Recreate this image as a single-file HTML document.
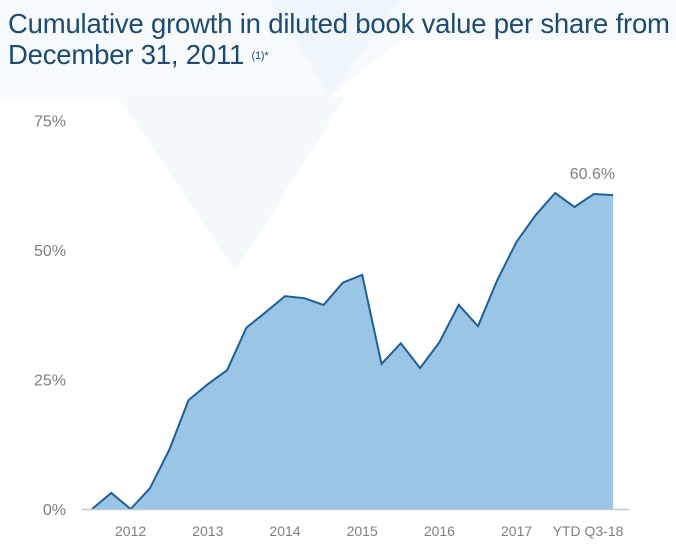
<!DOCTYPE html>
<html><head><meta charset="utf-8"><style>
body{margin:0;background:#fff;}
#wrap{position:relative;width:676px;height:554px;overflow:hidden;font-family:"Liberation Sans",sans-serif;}
.title{position:absolute;left:8px;top:8px;font-size:27.5px;line-height:31px;color:#1d4a6e;margin:0;font-weight:normal;letter-spacing:-0.2px;}
.title sup{font-size:11px;vertical-align:top;position:relative;top:2px;}
</style></head><body>
<div id="wrap">
<svg width="676" height="554" style="position:absolute;left:0;top:0">
<polygon points="0,0 676,0 676,40 400,40 330,97 0,97" fill="#f6fafd"/>
<polygon points="118,97 345,97 235,272" fill="#f4f9fc"/>
<polygon points="270,0 400,0 330,97" fill="#eff6fb"/>
</svg>
<h1 class="title">Cumulative growth in diluted book value per share from<br>December 31, 2011 <sup>(1)*</sup></h1>
<svg id="chart" width="676" height="554" style="position:absolute;left:0;top:0"></svg>
</div>
<script>
const values=[0,3.1,0,4,11.4,21,24.1,26.8,35,38,41.1,40.7,39.4,43.7,45.2,28,32,27.2,32.2,39.4,35.3,44.2,51.6,56.8,61,58.3,60.8,60.6];
const xLabels=["2012","2013","2014","2015","2016","2017","YTD Q3-18"];
const xLabelIdx=[2,6,10,14,18,22,25.7];
const yTicks=[0,25,50,75];
const lastLabel="60.6%";
const svg=document.getElementById('chart');
const NS='http://www.w3.org/2000/svg';
const x=i=>92+i*19.3;
const y=v=>509-v*5.18;
function mk(t,a){const e=document.createElementNS(NS,t);for(const k in a)e.setAttribute(k,a[k]);svg.appendChild(e);return e;}
let d='M'+x(0)+','+y(0);
values.forEach((v,i)=>{d+=' L'+x(i)+','+y(v);});
d+=' L'+x(values.length-1)+','+y(0)+' Z';
const area=mk('path',{d:d,fill:'#9ac5e5'});


const line=mk('polyline',{points:values.map((v,i)=>x(i)+','+y(v)).join(' '),fill:'none',stroke:'#1f5f98','stroke-width':2,'stroke-linejoin':'miter'});


const ax=mk('line',{x1:82,x2:629,y1:509.5,y2:509.5,stroke:'#bfc8d0','stroke-width':1.5});


yTicks.forEach(t=>{
 const e=mk('text',{x:66,y:y(t)+6,'text-anchor':'end','font-size':16,fill:'#7f7f7f','font-family':'Liberation Sans, sans-serif'});
 e.textContent=t+'%';
 
 
});
xLabels.forEach((l,i)=>{
 const e=mk('text',{x:x(xLabelIdx[i]),y:536,'text-anchor':'middle','font-size':14,fill:'#7f7f7f','font-family':'Liberation Sans, sans-serif'});
 e.textContent=l;
 
 
});
const last=mk('text',{x:x(values.length-1)+2,y:y(values[values.length-1])-16,'text-anchor':'end','font-size':16,fill:'#7f7f7f','font-family':'Liberation Sans, sans-serif'});
last.textContent=lastLabel;


</script>
</body></html>
